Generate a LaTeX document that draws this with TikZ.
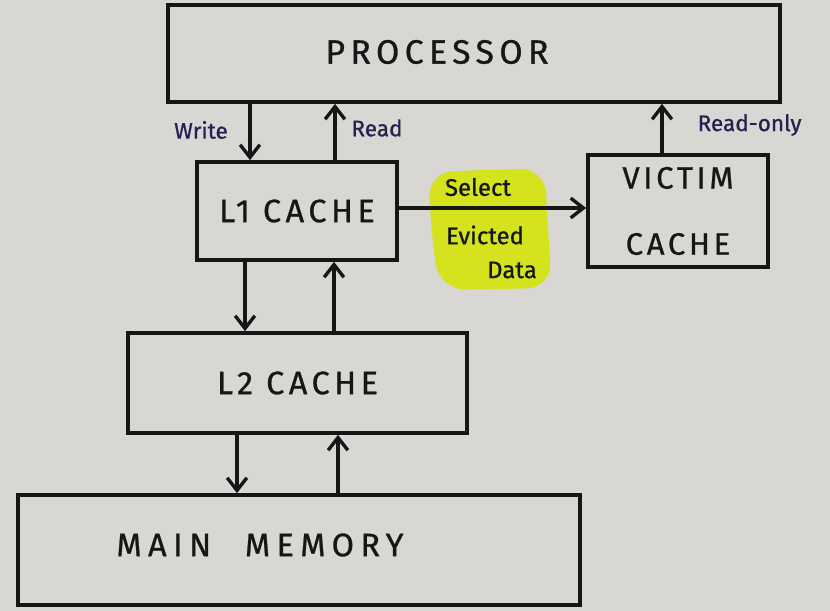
\documentclass[tikz,border=0pt]{standalone}
\usepackage{fontspec}
\setmainfont{Fira Sans}[FakeBold=0.8]
\usepackage{tikz}
\usetikzlibrary{arrows.meta,calc}
\definecolor{paper}{HTML}{D9D7D3}
\definecolor{ink}{HTML}{161616}
\definecolor{blueink}{HTML}{23214F}
\definecolor{marker}{HTML}{D4E31E}

\tikzset{
  block/.style={draw=ink, line width=2.6pt, rectangle, inner sep=0pt,
    font=\fontsize{23}{27}\selectfont\addfontfeatures{LetterSpace=14}, text=ink},
  flow/.style={draw=ink, line width=2.6pt, -{Straight Barb[length=9pt,width=14pt,line width=2.4pt]}},
  note/.style={text=blueink, font=\fontsize{16}{18}\selectfont, inner sep=1pt},
  tag/.style={text=ink, font=\fontsize{17}{19}\selectfont, inner sep=1pt}
}

\begin{document}
\begin{tikzpicture}[x=0.025cm, y=-0.025cm]
  % paper
  \fill[paper] (0,0) rectangle (830,611);
  \useasboundingbox (0,0) rectangle (830,611);
  % Marker highlight
  \fill[marker, rounded corners=18pt] (428,172) -- (545,168) -- (548,230)
    -- (552,288) -- (440,290) -- (432,240) -- cycle;
  % Blocks
  \node[block, minimum width=15.3cm, minimum height=2.425cm] (proc) at (474,53.5) {};
  \node[block, draw=none, font=\fontsize{24}{28}\selectfont\addfontfeatures{LetterSpace=16}] (proctxt) at (437,52) {PROCESSOR};
  \node[block, minimum width=5cm, minimum height=2.45cm] (l1) at (297,211) {L1 CACHE};
  \node[block, minimum width=4.5cm, minimum height=2.8cm, align=center,
    font=\fontsize{22}{47}\selectfont\addfontfeatures{LetterSpace=12}] (victim) at (678,211) {VICTIM\\CACHE};
  \node[block, minimum width=8.475cm, minimum height=2.5cm] (l2) at (297.5,383) {L2 CACHE};
  \node[block, minimum width=14.05cm, minimum height=2.75cm] (mem) at (299,550) {};
  \node[block, draw=none, font=\fontsize{23}{27}\selectfont\addfontfeatures{LetterSpace=20}] (memtxt) at (260,545) {MAIN\hspace{24pt}MEMORY};
  % Processor <-> L1
  \draw[flow] (250,0 |- proc.south) -- (250,0 |- l1.north);
  \draw[flow] (335,0 |- l1.north) -- (335,0 |- proc.south);
  \node[note] (wr) at (201,130) {Write};
  \node[note] (rd) at (377,128) {Read};
  % Victim -> Processor
  \draw[flow] (662,0 |- victim.north) -- (662,0 |- proc.south);
  \node[note, anchor=west] (ro) at (696,125) {Read-only};
  % L1 -> Victim
  \draw[flow] (l1.east |- 0,208) -- (victim.west |- 0,208);
  \node[tag] (sel) at (478,187) {Select};
  \node[tag] (evi) at (485,235) {Evicted};
  \node[tag] (dat) at (512,270) {Data};
  % L1 <-> L2
  \draw[flow] (245,0 |- l1.south) -- (245,0 |- l2.north);
  \draw[flow] (334,0 |- l2.north) -- (334,0 |- l1.south);
  % L2 <-> Main memory
  \draw[flow] (237,0 |- l2.south) -- (237,0 |- mem.north);
  \draw[flow] (338,0 |- mem.north) -- (338,0 |- l2.south);
\end{tikzpicture}
\end{document}
